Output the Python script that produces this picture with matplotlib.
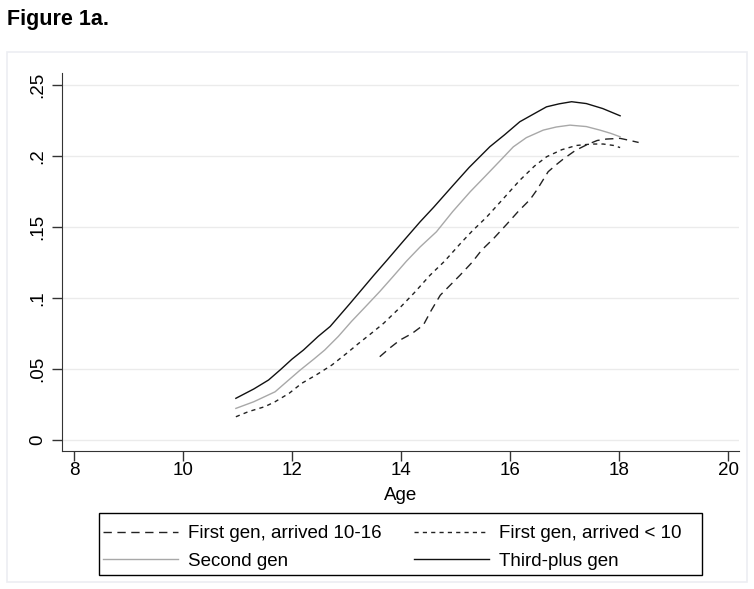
import matplotlib.pyplot as plt
from matplotlib.patches import Rectangle

plt.rcParams['font.family'] = ['Liberation Sans', 'DejaVu Sans']

# First gen, arrived 10-16
age_fg1016 = [13.61, 13.8, 13.98, 14.2, 14.41, 14.55, 14.72, 14.9, 15.08, 15.3, 15.48, 15.7, 15.94,
              16.15, 16.37, 16.49, 16.7, 16.85, 16.98, 17.2, 17.41, 17.6, 17.77, 18.02, 18.2, 18.36]
val_fg1016 = [0.0587, 0.065, 0.0704, 0.075, 0.081, 0.091, 0.102, 0.109, 0.116, 0.125, 0.1338, 0.142, 0.152,
              0.161, 0.1695, 0.176, 0.189, 0.194, 0.198, 0.204, 0.208, 0.211, 0.212, 0.2125, 0.211, 0.2096]

# First gen, arrived < 10
age_fg10 = [10.97, 11.2, 11.5, 11.69, 11.95, 12.18, 12.45, 12.73, 13.0, 13.22, 13.45, 13.68, 14.0, 14.25,
            14.53, 14.8, 15.08, 15.3, 15.57, 15.9, 16.18, 16.45, 16.67, 16.95, 17.22, 17.5, 17.71, 17.9, 18.02]
val_fg10 = [0.0164, 0.020, 0.0235, 0.027, 0.033, 0.040, 0.046, 0.0528, 0.061, 0.068, 0.075, 0.0822, 0.094, 0.104,
            0.116, 0.126, 0.138, 0.147, 0.157, 0.171, 0.183, 0.193, 0.1995, 0.2045, 0.2075, 0.2085, 0.2085, 0.2075, 0.206]

# Second gen
age_sg = [10.97, 11.3, 11.69, 11.9, 12.15, 12.4, 12.6, 12.85, 13.09, 13.35, 13.61, 13.85, 14.1, 14.35, 14.65,
          14.95, 15.27, 15.55, 15.8, 16.06, 16.3, 16.61, 16.85, 17.1, 17.4, 17.65, 17.85, 18.02]
val_sg = [0.0223, 0.027, 0.034, 0.041, 0.0493, 0.057, 0.0634, 0.073, 0.0835, 0.094, 0.1046, 0.115, 0.126, 0.136,
          0.1467, 0.161, 0.1749, 0.186, 0.196, 0.2065, 0.213, 0.2183, 0.2205, 0.2218, 0.2208, 0.2183, 0.216, 0.2136]

# Third-plus gen
age_tp = [10.97, 11.3, 11.57, 11.78, 12.0, 12.21, 12.48, 12.7, 12.88, 13.06, 13.28, 13.5, 13.75, 14.04, 14.35,
          14.6, 14.96, 15.25, 15.63, 15.9, 16.18, 16.45, 16.67, 16.9, 17.13, 17.4, 17.7, 18.02]
val_tp = [0.0294, 0.036, 0.0423, 0.0493, 0.057, 0.0634, 0.073, 0.080, 0.088, 0.096, 0.106, 0.116, 0.127, 0.140,
          0.1537, 0.164, 0.1796, 0.192, 0.2066, 0.215, 0.2242, 0.230, 0.2347, 0.2368, 0.2383, 0.237, 0.2335, 0.2284]

labels = ['First gen, arrived 10-16', 'First gen, arrived < 10', 'Second gen', 'Third-plus gen']
xticks = [8, 10, 12, 14, 16, 18, 20]
yticks = [0, 0.05, 0.1, 0.15, 0.2, 0.25]
yticklabels = ['0', '.05', '.1', '.15', '.2', '.25']

W, H = 754, 589
fig = plt.figure(figsize=(7.54, 5.89), dpi=100)
# light outer graph frame
fig.patches.append(Rectangle((7 / W, 1 - 582 / H), 740 / W, 530 / H, transform=fig.transFigure,
                             fill=False, edgecolor='#eceef2', linewidth=1.2))
fig.text(7 / W, 1 - 20 / H, 'Figure 1a.', fontsize=15.5, fontweight='bold', va='center', ha='left')

ax = fig.add_axes([0.0818, 0.2348, 0.8982, 0.6412])
ax.set_xlim(7.774, 20.2)
ax.set_ylim(-0.0075, 0.2585)

l1, = ax.plot(age_fg1016, val_fg1016, color='#222222', lw=1.0, dashes=(6, 4))
l2, = ax.plot(age_fg10, val_fg10, color='#222222', lw=1.0, dashes=(3, 3))
l3, = ax.plot(age_sg, val_sg, color='#a8a8a8', lw=1.0)
l4, = ax.plot(age_tp, val_tp, color='#111111', lw=1.0)

ax.set_xticks(xticks)
ax.set_yticks(yticks)
ax.set_yticklabels(yticklabels, rotation=90, va='center')
ax.tick_params(axis='both', direction='out', length=7, width=1, labelsize=13.5, color='#333333')
ax.tick_params(axis='y', pad=4)
ax.tick_params(axis='x', pad=1)
ax.grid(axis='y', color='#ebebeb', lw=1)
ax.set_axisbelow(True)
for s in ['top', 'right']:
    ax.spines[s].set_visible(False)
for s in ['left', 'bottom']:
    ax.spines[s].set_color('#333333')
ax.set_xlabel('Age', fontsize=13.5, labelpad=6)

# legend box drawn separately, entries laid out row-wise
fig.patches.append(Rectangle((99 / W, 1 - 575 / H), 603 / W, 62 / H, transform=fig.transFigure,
                             fill=False, edgecolor='black', linewidth=1.0))
fig.legend([l1, l3, l2, l4], [labels[0], labels[2], labels[1], labels[3]], ncol=2, loc='upper left',
           bbox_to_anchor=(103 / W, 1 - 525 / H), bbox_transform=fig.transFigure, fontsize=13.5,
           frameon=False, handlelength=4.0, handletextpad=0.55, columnspacing=1.7,
           labelspacing=0.55, borderpad=0, borderaxespad=0)

fig.savefig('out.png', dpi=100)
